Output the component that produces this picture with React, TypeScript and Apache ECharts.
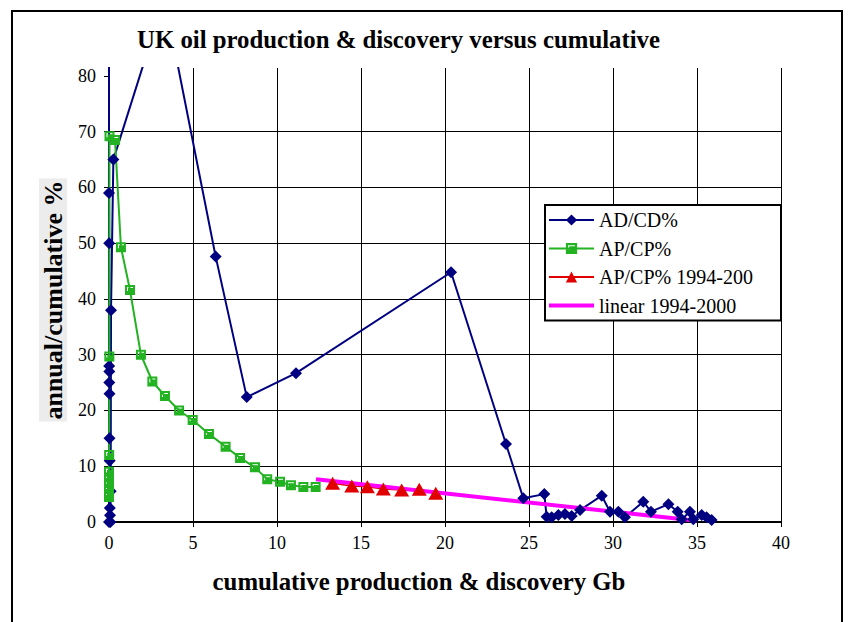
import React, { useEffect, useRef } from "react";
import * as echarts from "echarts";

// AD/CD% (annual discovery / cumulative discovery), x = cumulative discovery Gb
const adcdX = [0, 0, 0, 0.01, 0.01, 0.02, 0.02, 0.03, 0.03, 0.04, 0.05, 0.06, 0.08, 0.1, 0.12, 0.26, 3.3, 6.35, 8.2, 11.13, 20.36, 23.63, 24.66, 25.91, 26.05, 26.35, 26.75, 27.14, 27.54, 28.04, 29.33, 29.82, 30.32, 30.71, 31.8, 32.26, 33.3, 33.85, 34.09, 34.58, 34.78, 35.28, 35.57, 35.87];
const adcdY = [100, 0, 59, 50, 28, 27, 25, 23, 15, 11, 2.5, 1.2, 0, 5.5, 38, 65, 94, 47.6, 22.4, 26.7, 44.8, 14.0, 4.25, 5.0, 0.95, 0.84, 1.26, 1.43, 1.08, 2.15, 4.72, 1.85, 1.85, 0.84, 3.65, 1.85, 3.2, 1.85, 0.48, 1.85, 0.48, 1.26, 0.84, 0.36];

// AP/CP% (annual production / cumulative production), x = cumulative production Gb
const apcpX = [0, 0, 0, 0, 0, 0, 0.01, 0.02, 0.03, 0.36, 0.71, 1.25, 1.9, 2.58, 3.33, 4.17, 4.98, 5.95, 6.94, 7.8, 8.69, 9.42, 10.18, 10.83, 11.57, 12.3];
const apcpY = [4.5, 5, 6, 7, 8, 9, 12, 29.7, 69.2, 68.5, 49.3, 41.6, 30, 25.2, 22.6, 20, 18.3, 15.8, 13.5, 11.5, 9.8, 7.65, 7.2, 6.6, 6.3, 6.3];

// AP/CP% 1994-2000
const recentX = [13.31, 14.45, 15.38, 16.33, 17.42, 18.47, 19.45];
const recentY = [6.94, 6.46, 6.34, 5.92, 5.74, 5.86, 5.14];

// linear fit 1994-2000
const linearX = [12.32, 34.98];
const linearY = [7.66, 0.23];

const xTicks = [0, 5, 10, 15, 20, 25, 30, 35, 40];
const yTicks = [0, 10, 20, 30, 40, 50, 60, 70, 80];

const seriesNames = ["AD/CD%", "AP/CP%", "AP/CP% 1994-200", "linear 1994-2000"];

const zip = (xs: number[], ys: number[]) => xs.map((x, i) => [x, ys[i]]);

const SERIF = "Liberation Serif";
const squareSymbol = "path://M0,0L10,0L10,10L0,10Z M2,2L2,6L3,6L3,3L8,3L8,2Z";
const barIcon = "path://M0,0L45,0L45,4L0,4Z";

export default function App() {
  const ref = useRef<HTMLDivElement>(null);
  useEffect(() => {
    const chart = echarts.init(ref.current!, null, { renderer: "svg" });
    const option: any = {
      animation: false,
      backgroundColor: "#fff",
      title: {
        text: "UK oil production & discovery versus cumulative",
        left: 137,
        top: 27,
        padding: 0,
        textStyle: { fontFamily: SERIF, fontSize: 24.8, fontWeight: "bold", color: "#000" },
      },
      grid: { left: 109, right: 67, top: 68, bottom: 100, containLabel: false },
      legend: {
        orient: "vertical",
        left: 545,
        top: 205,
        padding: [5, 4, 5, 3],
        itemGap: 8.5,
        itemWidth: 45,
        itemHeight: 14,
        backgroundColor: "#fff",
        borderColor: "#000",
        borderWidth: 2,
        selectedMode: false,
        textStyle: { fontFamily: SERIF, fontSize: 20, color: "#000", width: 178, lineHeight: 20 },
        data: [
          seriesNames[0],
          seriesNames[1],
          seriesNames[2],
          { name: seriesNames[3], icon: barIcon },
        ],
      },
      xAxis: {
        type: "value",
        min: 0,
        max: 40,
        interval: 5,
        name: "cumulative production & discovery Gb",
        nameLocation: "middle",
        nameGap: 47,
        nameTextStyle: {
          fontFamily: SERIF,
          fontSize: 24.8,
          fontWeight: "bold",
          color: "#000",
          padding: [0, 52, 0, 0],
        },
        axisLine: { show: true, onZero: false, lineStyle: { color: "#000", width: 2 } },
        axisTick: { show: true, length: 5, lineStyle: { color: "#000" } },
        axisLabel: { fontFamily: SERIF, fontSize: 18, color: "#000", margin: 12, customValues: xTicks },
        splitLine: { show: true, showMinLine: false, lineStyle: { color: "#000", width: 1 } },
      },
      yAxis: {
        type: "value",
        min: 0,
        max: 81.43,
        interval: 10,
        axisLine: { show: true, onZero: false, lineStyle: { color: "#000", width: 1.5 } },
        axisTick: { show: true, length: 5, lineStyle: { color: "#000" }, customValues: yTicks },
        axisLabel: {
          fontFamily: SERIF,
          fontSize: 18,
          color: "#000",
          margin: 13,
          customValues: yTicks,
          formatter: (v: number) => (Math.abs(v % 10) < 1e-6 ? String(v) : ""),
        },
        splitLine: {
          show: true,
          showMaxLine: false,
          lineStyle: {
            color: ["#000", "#000", "#000", "#000", "#000", "#000", "#000", "#000", "#808080", "transparent"],
            width: 1,
          },
        },
      },
      graphic: [
        {
          type: "rect",
          silent: true,
          shape: { x: 12, y: 11, width: 830, height: 700 },
          style: { fill: "none", stroke: "#000", lineWidth: 2 },
        },
        {
          type: "text",
          silent: true,
          x: 53,
          y: 300,
          rotation: Math.PI / 2,
          style: {
            text: "annual/cumulative %",
            fontFamily: SERIF,
            fontSize: 26,
            fontWeight: "bold",
            fill: "#000",
            align: "center",
            verticalAlign: "middle",
            backgroundColor: "#ececec",
            padding: [1, 2, 1, 2],
          },
        },
      ],
      series: [
        {
          name: seriesNames[0],
          type: "line",
          data: zip(adcdX, adcdY),
          symbol: "diamond",
          symbolSize: 12,
          color: "#000080",
          itemStyle: { color: "#000080" },
          lineStyle: { color: "#000080", width: 2 },
        },
        {
          name: seriesNames[1],
          type: "line",
          data: zip(apcpX, apcpY),
          symbol: squareSymbol,
          symbolSize: 10,
          color: "#22b222",
          itemStyle: { color: "#22b222" },
          lineStyle: { color: "#22b222", width: 2 },
        },
        {
          name: seriesNames[2],
          type: "line",
          data: zip(recentX, recentY),
          symbol: "triangle",
          symbolSize: [15, 13],
          color: "#e00000",
          itemStyle: { color: "#e00000" },
          lineStyle: { color: "#e00000", width: 1.5 },
        },
        {
          name: seriesNames[3],
          type: "line",
          data: zip(linearX, linearY),
          symbol: "none",
          color: "#ff00ff",
          lineStyle: { color: "#ff00ff", width: 4 },
        },
      ],
    };
    chart.setOption(option);
    return () => chart.dispose();
  }, []);
  return (
    <div
      ref={ref}
      style={{ position: "absolute", left: 0, top: 0, width: 848, height: 622 }}
    />
  );
}
